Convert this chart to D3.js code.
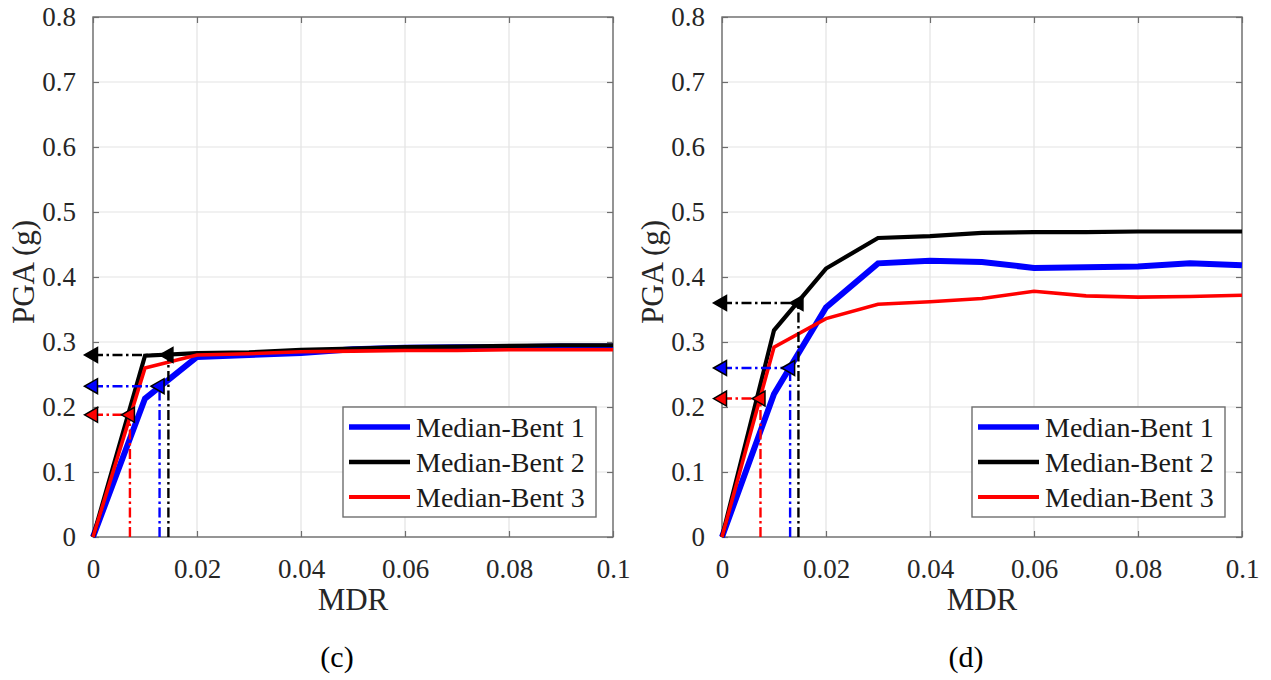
<!DOCTYPE html>
<html><head><meta charset="utf-8">
<script src="https://cdn.jsdelivr.net/npm/d3@7"></script>
<style>html,body{margin:0;padding:0;background:#fff;}svg{display:block;}
svg text{font-family:"Liberation Serif","Times New Roman",Times,"DejaVu Serif",serif;}</style>
</head><body>
<script>
// ---------- data ----------
const mdr = [0, 0.01, 0.02, 0.03, 0.04, 0.05, 0.06, 0.07, 0.08, 0.09, 0.1];
// panel (c)
const bent1C = [0, 0.213, 0.277, 0.280, 0.283, 0.289, 0.291, 0.292, 0.292, 0.293, 0.293];
const bent2C = [0, 0.279, 0.283, 0.284, 0.288, 0.290, 0.292, 0.293, 0.294, 0.295, 0.295];
const bent3C = [0, 0.260, 0.280, 0.282, 0.285, 0.286, 0.287, 0.287, 0.288, 0.288, 0.288];
const arrowPgaC = [0.232, 0.280, 0.188];
const arrowMdrC = [0.0128, 0.0145, 0.0071];
// panel (d)
const bent1D = [0, 0.220, 0.353, 0.421, 0.425, 0.423, 0.414, 0.415, 0.416, 0.421, 0.418];
const bent2D = [0, 0.318, 0.413, 0.460, 0.463, 0.468, 0.469, 0.469, 0.470, 0.470, 0.470];
const bent3D = [0, 0.292, 0.336, 0.358, 0.362, 0.367, 0.378, 0.371, 0.369, 0.370, 0.372];
const arrowPgaD = [0.260, 0.360, 0.213];
const arrowMdrD = [0.0131, 0.0147, 0.0074];

const seriesNames = ["Median-Bent 1", "Median-Bent 2", "Median-Bent 3"];
const seriesColors = ["#0000ff", "#000000", "#ff0000"];
const seriesWidths = [6, 4.2, 3.6];
const xTicks = [0, 0.02, 0.04, 0.06, 0.08, 0.1];
const xTickLabels = ["0", "0.02", "0.04", "0.06", "0.08", "0.1"];
const yTicks = [0, 0.1, 0.2, 0.3, 0.4, 0.5, 0.6, 0.7, 0.8];
const yTickLabels = ["0", "0.1", "0.2", "0.3", "0.4", "0.5", "0.6", "0.7", "0.8"];
const panelLabels = ["(c)", "(d)"];

const W = 1271, H = 680;
const font = "Liberation Serif, Times New Roman, Times, DejaVu Serif, serif";
const svg = d3.select("body").append("svg").attr("width", W).attr("height", H);
svg.append("rect").attr("width", W).attr("height", H).attr("fill", "#fff");

const panels = [
  {x0: 93, ys: [bent1C, bent2C, bent3C], ap: arrowPgaC, am: arrowMdrC, label: panelLabels[0]},
  {x0: 722, ys: [bent1D, bent2D, bent3D], ap: arrowPgaD, am: arrowMdrD, label: panelLabels[1]}
];
const pw = 520, yTop = 17, yBot = 537;

panels.forEach(p => {
  const x = d3.scaleLinear().domain([0, 0.1]).range([p.x0, p.x0 + pw]);
  const y = d3.scaleLinear().domain([0, 0.8]).range([yBot, yTop]);
  const g = svg.append("g");

  // grid
  g.append("g").selectAll("line").data(xTicks).join("line")
    .attr("x1", d => x(d)).attr("x2", d => x(d)).attr("y1", yTop).attr("y2", yBot)
    .attr("stroke", "#e3e3e3").attr("stroke-width", 1.2);
  g.append("g").selectAll("line").data(yTicks).join("line")
    .attr("x1", p.x0).attr("x2", p.x0 + pw).attr("y1", d => y(d)).attr("y2", d => y(d))
    .attr("stroke", "#e3e3e3").attr("stroke-width", 1.2);

  const axStyle = sel => {
    sel.attr("font-family", null).attr("font-size", null);
    sel.select(".domain").remove();
    sel.selectAll("line").attr("stroke", "#6e6e6e").attr("stroke-width", 1.2);
    sel.selectAll("text").style("font-family", font).style("font-size", "27px").attr("fill", "#262626");
  };
  g.append("g").attr("transform", `translate(0,${yBot})`)
    .call(d3.axisBottom(x).tickValues(xTicks).tickFormat((d, i) => xTickLabels[i]).tickSizeInner(-6).tickSizeOuter(0).tickPadding(22))
    .call(axStyle);
  g.append("g").attr("transform", `translate(0,${yTop})`)
    .call(d3.axisTop(x).tickValues(xTicks).tickFormat("").tickSizeInner(-6).tickSizeOuter(0))
    .call(axStyle);
  g.append("g").attr("transform", `translate(${p.x0},0)`)
    .call(d3.axisLeft(y).tickValues(yTicks).tickFormat((d, i) => yTickLabels[i]).tickSizeInner(-6).tickSizeOuter(0).tickPadding(17))
    .call(axStyle);
  g.append("g").attr("transform", `translate(${p.x0 + pw},0)`)
    .call(d3.axisRight(y).tickValues(yTicks).tickFormat("").tickSizeInner(-6).tickSizeOuter(0))
    .call(axStyle);
  g.append("rect").attr("x", p.x0).attr("y", yTop).attr("width", pw).attr("height", yBot - yTop)
    .attr("fill", "none").attr("stroke", "#6e6e6e").attr("stroke-width", 1.4);

  // series
  const line = d3.line().x((d, i) => x(mdr[i])).y(d => y(d));
  p.ys.forEach((vals, k) => {
    g.append("path").datum(vals).attr("d", line)
      .attr("fill", "none").attr("stroke", seriesColors[k]).attr("stroke-width", seriesWidths[k])
      .attr("stroke-linejoin", "miter");
  });

  // arrows
  const dash = "10,3.5,2.5,3.5";
  p.ap.forEach((lvl, k) => {
    const xv = p.am[k];
    g.append("line").attr("x1", x(xv)).attr("x2", x(xv)).attr("y1", y(0)).attr("y2", y(lvl))
      .attr("stroke", seriesColors[k]).attr("stroke-width", 2.4).attr("stroke-dasharray", dash);
    g.append("line").attr("x1", x(0)).attr("x2", x(xv)).attr("y1", y(lvl)).attr("y2", y(lvl))
      .attr("stroke", seriesColors[k]).attr("stroke-width", 2.4).attr("stroke-dasharray", dash);
  });
  p.ap.forEach((lvl, k) => {
    [0, p.am[k]].forEach(xv => {
      const cx = x(xv) - 1.5, cy = y(lvl);
      g.append("path")
        .attr("d", `M${cx - 7},${cy} L${cx + 6},${cy - 7.5} L${cx + 6},${cy + 7.5} Z`)
        .attr("fill", seriesColors[k]).attr("stroke", "#000").attr("stroke-width", 1.5)
        .attr("stroke-linejoin", "miter");
    });
  });

  // legend
  const lx = p.x0 + pw - 270, ly = 407;
  g.append("rect").attr("x", lx).attr("y", ly).attr("width", 253).attr("height", 110)
    .attr("fill", "#fff").attr("stroke", "#6e6e6e").attr("stroke-width", 1.4);
  seriesNames.forEach((nm, k) => {
    const cy = ly + 20 + 35 * k;
    g.append("line").attr("x1", lx + 6).attr("x2", lx + 67).attr("y1", cy).attr("y2", cy)
      .attr("stroke", seriesColors[k]).attr("stroke-width", [5.5, 4.5, 4][k]);
    g.append("text").attr("x", lx + 73).attr("y", cy + 9.5)
      .style("font-family", font).style("font-size", "28px").attr("fill", "#1a1a1a").text(nm);
  });

  // axis titles
  g.append("text").attr("x", p.x0 + pw / 2).attr("y", 610)
    .attr("text-anchor", "middle").style("font-family", font).style("font-size", "31px")
    .attr("fill", "#262626").text("MDR");
  g.append("text").attr("transform", `translate(${p.x0 - 59},272) rotate(-90)`)
    .attr("text-anchor", "middle").style("font-family", font).style("font-size", "31px")
    .attr("fill", "#262626").text("PGA (g)");
  g.append("text").attr("x", p.x0 + 244).attr("y", 667)
    .attr("text-anchor", "middle").style("font-family", font).style("font-size", "30px")
    .attr("fill", "#000").text(p.label);
});
</script>
</body></html>
